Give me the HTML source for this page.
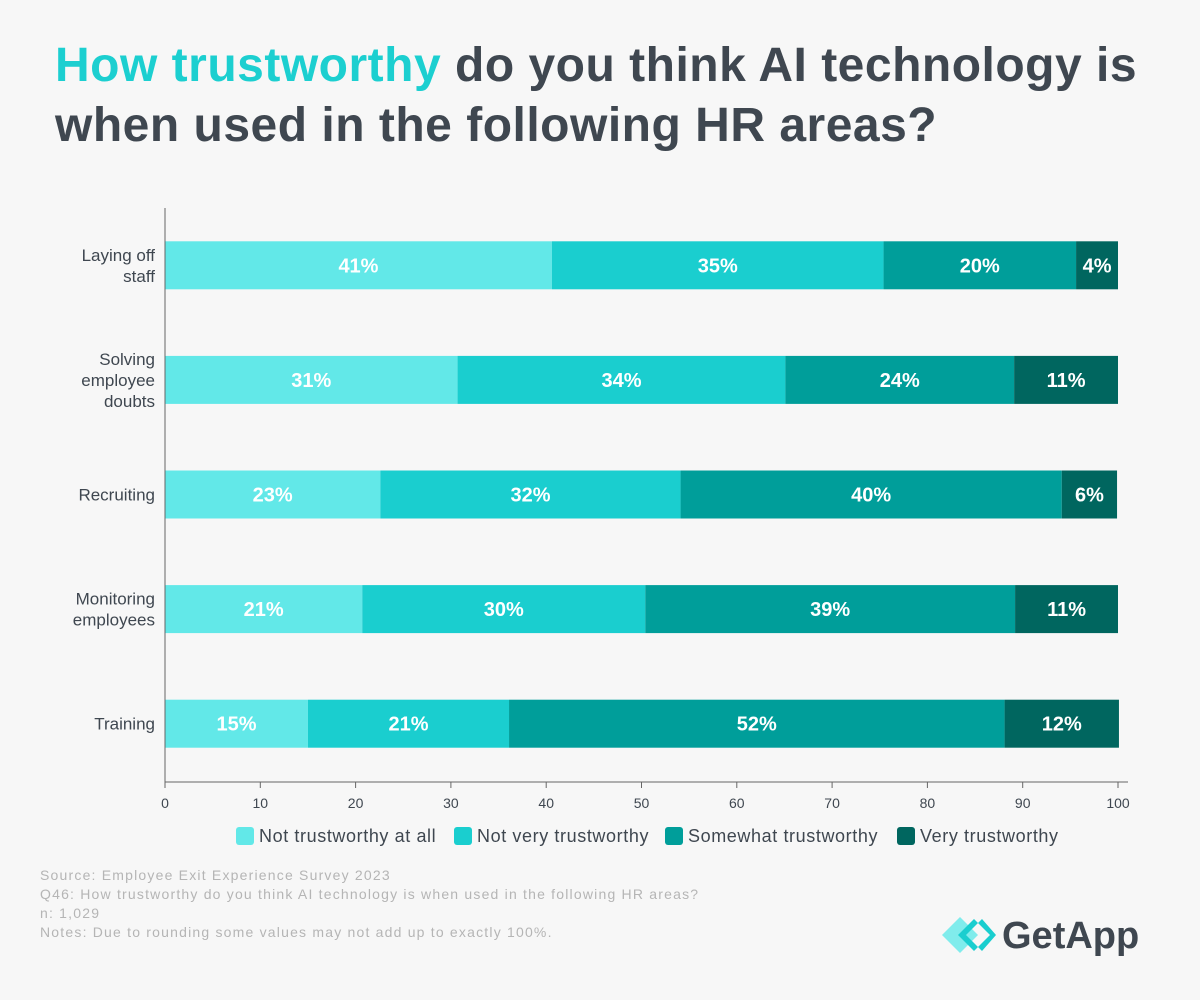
<!DOCTYPE html>
<html><head><meta charset="utf-8">
<style>
body{margin:0;background:#f7f7f7;font-family:"Liberation Sans",sans-serif;}
#wrap{position:relative;width:1200px;height:1000px;background:#f7f7f7;overflow:hidden}
h1{position:absolute;left:55px;top:36px;margin:0;font-size:48px;line-height:60px;font-weight:bold;color:#3f4750;letter-spacing:0.5px;white-space:nowrap}
h1 span{color:#1ccfd0}
.foot{position:absolute;left:40px;top:866px;font-size:14px;line-height:19px;color:#b5b5b5;letter-spacing:1.2px}
</style></head><body>
<div id="wrap">
<h1><span>How trustworthy</span> do you think AI technology is<br>when used in the following HR areas?</h1>
<svg id="chart" width="1200" height="1000" style="position:absolute;left:0;top:0"></svg>
<div class="foot">Source: Employee Exit Experience Survey 2023<br>Q46: How trustworthy do you think AI technology is when used in the following HR areas?<br>n: 1,029<br>Notes: Due to rounding some values may not add up to exactly 100%.</div>
<svg width="215" height="50" style="position:absolute;left:940px;top:910px">
<polygon points="2,25 20,7 38,25 20,43" fill="#62e8e8" opacity="0.8"/>
<polygon points="14,25 30,9 34,13 22,25 34,37 30,41" fill="#1acecf" transform="translate(4,0)"/>
<polygon points="26,25 42,9 56,25 42,41 38,37 50,25 38,13" fill="#1acecf"/>
<text x="62" y="38" font-size="38" font-weight="bold" fill="#3f4750" font-family="Liberation Sans, sans-serif">GetApp</text>
</svg>
</div>
<script>
const categories=["Laying off\nstaff","Solving\nemployee\ndoubts","Recruiting","Monitoring\nemployees","Training"];
const seriesNames=["Not trustworthy at all","Not very trustworthy","Somewhat trustworthy","Very trustworthy"];
const notAtAll=[40.6,30.7,22.6,20.7,15.0];
const notVery=[34.8,34.4,31.5,29.7,21.1];
const somewhat=[20.2,24.0,40.0,38.8,52.0];
const very=[4.4,10.9,5.8,10.8,12.0];
const labelsNotAtAll=["41%","31%","23%","21%","15%"];
const labelsNotVery=["35%","34%","32%","30%","21%"];
const labelsSomewhat=["20%","24%","40%","39%","52%"];
const labelsVery=["4%","11%","6%","11%","12%"];
const ticks=[0,10,20,30,40,50,60,70,80,90,100];
const colors=["#62e8e8","#1acecf","#009e9a","#00665f"];
const svg=document.getElementById('chart');const NS="http://www.w3.org/2000/svg";
const x0=165,x1=1118,top0=208,rowH=114.6,barH=48;
const xs=v=>x0+(x1-x0)*v/100;
const yc=i=>top0+rowH*(i+0.5);
function mk(t,a,p){const e=document.createElementNS(NS,t);for(const k in a)e.setAttribute(k,a[k]);(p||svg).appendChild(e);return e;}
const series=[notAtAll,notVery,somewhat,very],labs=[labelsNotAtAll,labelsNotVery,labelsSomewhat,labelsVery];
categories.forEach((c,i)=>{
  let acc=0;
  series.forEach((s,j)=>{
    const r=mk('rect',{x:xs(acc),y:yc(i)-barH/2,width:xs(acc+s[i])-xs(acc),height:barH,fill:colors[j]});
    
    
    const t=mk('text',{x:(xs(acc)+xs(acc+s[i]))/2,y:yc(i)+7,'text-anchor':'middle','font-size':20,'font-weight':'bold',fill:'#fff'});
    t.textContent=labs[j][i];
    
    
    acc+=s[i];
  });
  const lines=c.split("\n");
  lines.forEach((ln,k)=>{
    const t=mk('text',{x:155,y:yc(i)+6+(k-(lines.length-1)/2)*21,'text-anchor':'end','font-size':17,fill:'#3f4750'});
    t.textContent=ln;
    
    
  });
});
let a=mk('line',{x1:x0,y1:208,x2:x0,y2:782,stroke:'#666','stroke-width':1});

a=mk('line',{x1:x0,y1:782,x2:1128,y2:782,stroke:'#666','stroke-width':1});

ticks.forEach(v=>{
  mk('line',{x1:xs(v),y1:782,x2:xs(v),y2:788,stroke:'#666'});
  const t=mk('text',{x:xs(v),y:808,'text-anchor':'middle','font-size':14,fill:'#3f4750'});
  t.textContent=v;
  
  
});
const legX=[236,454,665,897];
seriesNames.forEach((n,j)=>{
  const g=mk('g',{});
  
  
  mk('rect',{x:legX[j],y:827,width:18,height:18,rx:3,fill:colors[j]},g);
  const t=mk('text',{x:legX[j]+23,y:842,'font-size':18,'letter-spacing':0.6,fill:'#3f4750'},g);t.textContent=n;
});
</script>
</body></html>
